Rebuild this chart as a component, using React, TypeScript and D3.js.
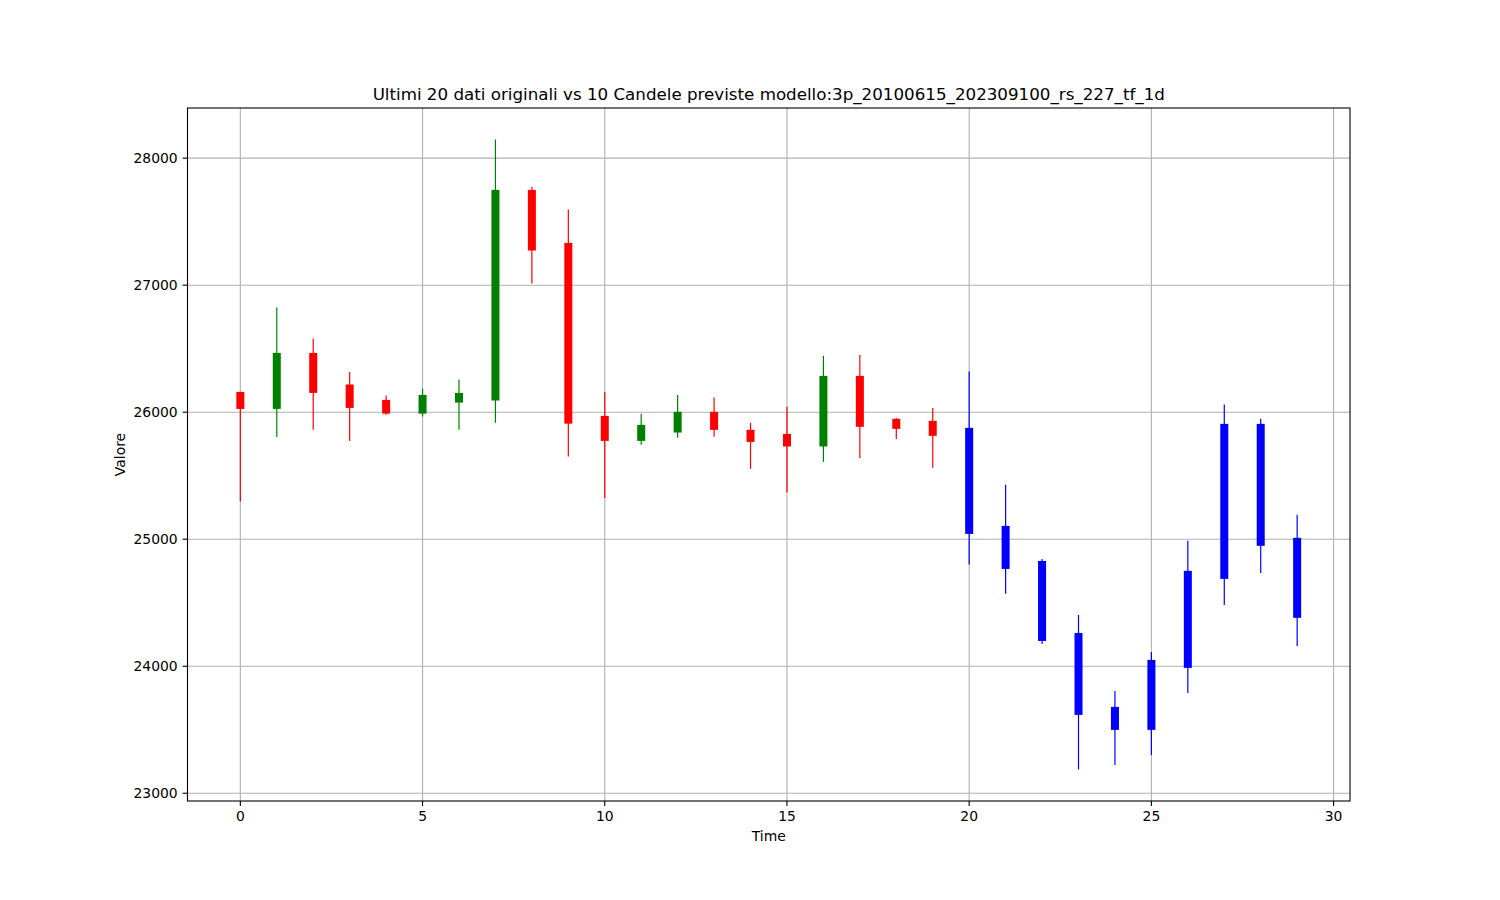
import React from "react";
import * as d3 from "d3";

const titleText = "Ultimi 20 dati originali vs 10 Candele previste modello:3p_20100615_202309100_rs_227_tf_1d";
const originalCount = 20;
const opens = [26160, 26026, 26467, 26218, 26097, 25989, 26076, 26092, 27750, 27333, 25971, 25774, 25840, 26003, 25861, 25829, 25730, 26286, 25948, 25932, 25877, 25105, 24829, 24262, 23680, 23499, 23987, 24688, 25908, 25011];
const highs = [26160, 26824, 26580, 26317, 26131, 26186, 26257, 28147, 27774, 27596, 26160, 25987, 26136, 26115, 25916, 26042, 26444, 26451, 25955, 26034, 26320, 25428, 24845, 24404, 23806, 24113, 24987, 26060, 25948, 25192];
const lows = [25296, 25805, 25861, 25774, 25979, 25966, 25861, 25916, 27013, 25651, 25325, 25743, 25798, 25806, 25554, 25367, 25609, 25640, 25790, 25562, 24801, 24570, 24176, 23187, 23223, 23302, 23790, 24483, 24735, 24160];
const closes = [26026, 26467, 26152, 26034, 25989, 26136, 26152, 27750, 27273, 25910, 25774, 25900, 26003, 25861, 25766, 25730, 26286, 25885, 25869, 25814, 25042, 24766, 24199, 23617, 23499, 24050, 24751, 25908, 24948, 24381];
const xTicks = [0, 5, 10, 15, 20, 25, 30];
const yTicks = [23000, 24000, 25000, 26000, 27000, 28000];

const W = 1500, H = 900;
const L = 187.5, R = 1350, T = 108, B = 801;
const FONT = "DejaVu Sans, sans-serif";

export default function App() {
  const n = opens.length;
  const idx = d3.range(n);
  const xMin = 0, xMax = n - 1;
  const xPad = (xMax - xMin) * 0.05;
  const x = d3.scaleLinear().domain([xMin - xPad, xMax + xPad]).range([L, R]);
  const yLo = d3.min(lows)!, yHi = d3.max(highs)!;
  const yPad = (yHi - yLo) * 0.05;
  const y = d3.scaleLinear().domain([yLo - yPad, yHi + yPad]).range([B, T]);
  const halfW = 0.11;

  const colorOf = (i: number) =>
    i >= originalCount ? "#0000ff" : closes[i] >= opens[i] ? "#008000" : "#ff0000";

  return (
    <svg width={W} height={H} style={{ position: "absolute", left: 0, top: 0, background: "#fff" }} fontFamily={FONT}>
      <rect x={0} y={0} width={W} height={H} fill="#fff" />
      {/* grid */}
      {xTicks.map((t) => (
        <line key={"gx" + t} x1={x(t)} x2={x(t)} y1={T} y2={B} stroke="#b0b0b0" strokeWidth={1.1} />
      ))}
      {yTicks.map((t) => (
        <line key={"gy" + t} x1={L} x2={R} y1={y(t)} y2={y(t)} stroke="#b0b0b0" strokeWidth={1.1} />
      ))}
      {/* candles */}
      {idx.map((i) => {
        const c = colorOf(i);
        const top = Math.max(opens[i], closes[i]);
        const bot = Math.min(opens[i], closes[i]);
        const bx = x(i - halfW);
        const bw = x(i + halfW) - x(i - halfW);
        return (
          <g key={"c" + i}>
            <line x1={x(i)} x2={x(i)} y1={y(highs[i])} y2={y(lows[i])} stroke={c} strokeWidth={1.2} />
            <rect x={bx} y={y(top)} width={bw} height={Math.max(1, y(bot) - y(top))} fill={c} />
          </g>
        );
      })}
      {/* frame */}
      <rect x={L} y={T} width={R - L} height={B - T} fill="none" stroke="#000" strokeWidth={1.1} />
      {/* x ticks */}
      {xTicks.map((t) => (
        <g key={"xt" + t}>
          <line x1={x(t)} x2={x(t)} y1={B} y2={B + 4.9} stroke="#000" strokeWidth={1.1} />
          <text x={x(t)} y={B + 9.8} dy="0.76em" textAnchor="middle" fontSize={13.9} fill="#000">{t}</text>
        </g>
      ))}
      {/* y ticks */}
      {yTicks.map((t) => (
        <g key={"yt" + t}>
          <line x1={L - 4.9} x2={L} y1={y(t)} y2={y(t)} stroke="#000" strokeWidth={1.1} />
          <text x={L - 9.8} y={y(t)} dy="0.35em" textAnchor="end" fontSize={13.9} fill="#000">{t}</text>
        </g>
      ))}
      {/* labels */}
      <text x={(L + R) / 2} y={841} textAnchor="middle" fontSize={13.9} fill="#000">Time</text>
      <text transform={`translate(124.5, ${(T + B) / 2}) rotate(-90)`} textAnchor="middle" fontSize={13.9} fill="#000">Valore</text>
      <text x={(L + R) / 2} y={100} textAnchor="middle" fontSize={16.7} fill="#000">{titleText}</text>
    </svg>
  );
}
